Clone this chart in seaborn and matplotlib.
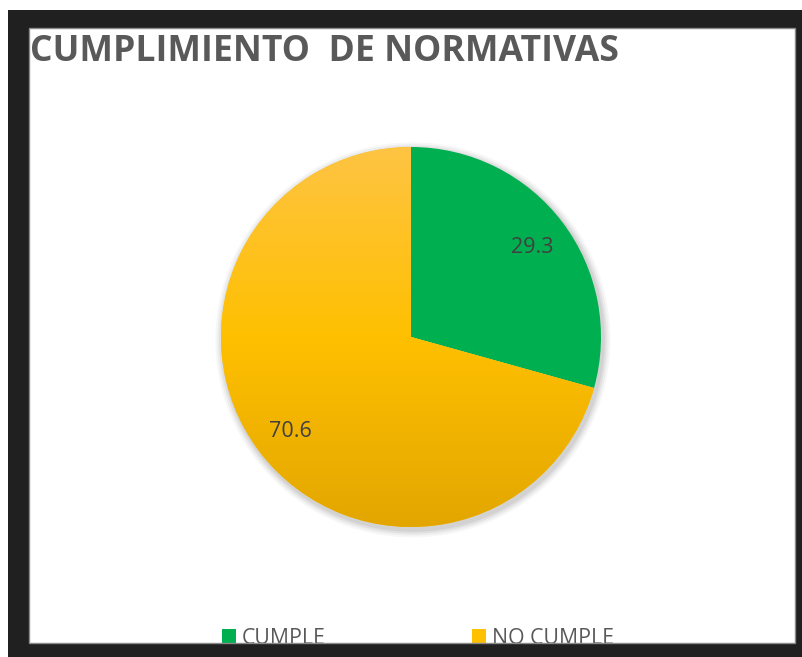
import numpy as np
import matplotlib
matplotlib.use('Agg')
import matplotlib.pyplot as plt
import seaborn as sns
from matplotlib.patches import Rectangle, Patch, Circle
from matplotlib.colors import LinearSegmentedColormap

# Datos
categorias = ['CUMPLE', 'NO CUMPLE']
valores = [29.3, 70.6]
colores = ['#00B050', '#FFC000']
titulo = 'CUMPLIMIENTO  DE NORMATIVAS'

sns.set_theme(style='white')
plt.rcParams['font.family'] = ['Open Sans', 'DejaVu Sans']

W, H = 803, 657
fig = plt.figure(figsize=(W / 100, H / 100), dpi=100)
fig.patch.set_facecolor('white')


def fx(x):
    return x / W


def fy(y):
    return 1 - y / H


# Ejes del pastel: centro (411, 337), radio 190 px
ax = fig.add_axes([fx(221), fy(527), 380 / W, 380 / H])

# sombra suave
for i, a in enumerate([0.03, 0.04, 0.05, 0.06]):
    ax.add_patch(Circle((0.01, -0.015), 1.0 + 0.01 * (4 - i), color='black', alpha=a,
                        lw=0, zorder=0, clip_on=False))

wedges, _, autotexts = ax.pie(
    valores,
    colors=colores,
    startangle=90,
    counterclock=False,
    radius=1,
    autopct=lambda p: f'{p * sum(valores) / 100:.1f}',
    pctdistance=0.8,
    wedgeprops=dict(linewidth=0),
    textprops=dict(fontsize=15.5, color='#404040'),
)
for w in wedges:
    w.set_zorder(1)
    w.set_clip_on(False)
for t in autotexts:
    t.set_zorder(5)
    t.set_va('center_baseline')

# degradado en la porción amarilla
grad = LinearSegmentedColormap.from_list('amarillo', ['#E3A600', '#FFC000', '#FEC443'])
g = np.linspace(0, 1, 256).reshape(-1, 1)
img = ax.imshow(g, extent=[-1, 1, -1, 1], origin='lower', cmap=grad, aspect='auto', zorder=2)
img.set_clip_path(wedges[1])

ax.set_xlim(-1, 1)
ax.set_ylim(-1, 1)
ax.set_aspect('equal')
ax.axis('off')

# Título
fig.text(fx(30), fy(61), titulo, fontsize=25.6, fontweight='bold', color='#595959',
         ha='left', va='baseline')

# Leyenda
handles = [Patch(facecolor=c, edgecolor='none') for c in colores]
fig.legend(handles, categorias, loc='center', bbox_to_anchor=(fx(418), fy(638)),
           ncol=2, frameon=False, fontsize=15.3, labelcolor='#595959',
           handlelength=0.66, handleheight=0.66, handletextpad=0.28,
           columnspacing=6.9, borderpad=0, borderaxespad=0)

# Marco negro
negro = '#202020'
for (x0, y0, x1, y1) in [(8, 10, 803, 28), (8, 10, 29, 657), (795, 10, 803, 657), (8, 643, 803, 657)]:
    fig.patches.append(Rectangle((fx(x0), fy(y1)), fx(x1 - x0), (y1 - y0) / H,
                                 transform=fig.transFigure, facecolor=negro,
                                 edgecolor='none', zorder=10))
fig.patches.append(Rectangle((fx(29), fy(643)), fx(795 - 29), (643 - 28) / H,
                             transform=fig.transFigure, facecolor='none',
                             edgecolor='#8a8a8a', linewidth=1, zorder=11))

fig.savefig('out.png', dpi=100)
